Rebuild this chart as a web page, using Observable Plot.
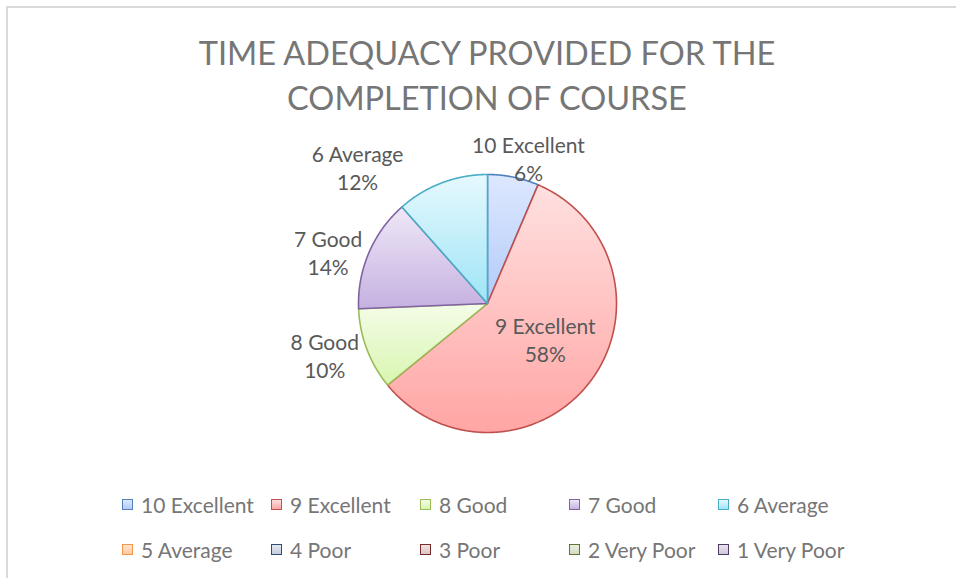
<!DOCTYPE html>
<html><head><meta charset="utf-8">
<script src="https://cdn.jsdelivr.net/npm/d3@7"></script>
<script src="https://cdn.jsdelivr.net/npm/@observablehq/plot@0.6"></script>
<style>
body{margin:0;background:#fff;font-family:Lato,"Open Sans",sans-serif;}
#chart{position:relative;width:956px;height:578px;overflow:hidden;background:#fff;}
#frame{position:absolute;left:6px;top:6px;width:1000px;height:1000px;border-left:2px solid #d9d9d9;border-top:2px solid #d9d9d9;pointer-events:none;}
#title{width:956px;height:125px;box-sizing:border-box;padding-top:30px;padding-left:18px;text-align:center;font-size:32.5px;line-height:45px;color:#767676;}
#plot svg{display:block;}
#legend{display:grid;grid-template-columns:repeat(5,149px);padding-left:122px;padding-top:12px;}
.item{height:45px;display:flex;align-items:center;font-size:21px;color:#767676;white-space:nowrap;}
.sw{width:9px;height:9px;border:1.5px solid;margin-right:8px;flex:none;}
</style>
</head><body>
<div id="chart">
  <div id="title">TIME ADEQUACY PROVIDED FOR THE<br>COMPLETION OF COURSE</div>
  <div id="plot"></div>
  <div id="legend"></div>
  <div id="frame"></div>
</div>
<script>
// ---- data ----
const categories = ["10 Excellent","9 Excellent","8 Good","7 Good","6 Average","5 Average","4 Poor","3 Poor","2 Very Poor","1 Very Poor"];
const counts     = [5, 45, 8, 11, 9, 0, 0, 0, 0, 0];

// ---- styles ----
const strokeColors = ["#4f81bd","#c0504d","#9bbb59","#8064a2","#4bacc6","#f79646","#2c4d75","#772c2a","#5f7530","#4d3b62"];
const gradTop      = ["#dde8fe","#ffe0e0","#f4fde8","#efe8f8","#e6f9fe","#ffe6d2","#e4e8f0","#f0e3e3","#ebf0e2","#e8e4ee"];
const gradBottom   = ["#b3cbf9","#ffa6a4","#d9f5b0","#c5b1e0","#9fe4f6","#ffc8a0","#c3cddd","#dbc6c6","#d3dcc1","#cfc7da"];
// label nudges (px) for Excel-like "best fit" placement
const labelNudge   = [[10,6],[1,-7],[-18,-3],[-17,9],[-75,8]];

const W = 956, H = 345, CX = 487, CY = 178, R = 129;

const total = d3.sum(counts);
const arcs = d3.pie().sort(null)(counts);

const slices = arcs.filter(a => a.value > 0).map(a => {
  const n = Math.max(4, Math.ceil((a.endAngle - a.startAngle) / 0.005));
  const pts = [{x: 0, y: 0}];
  for (let k = 0; k <= n; k++) {
    const t = a.startAngle + (a.endAngle - a.startAngle) * k / n;
    pts.push({x: Math.sin(t), y: Math.cos(t)});
  }
  pts.push({x: 0, y: 0});
  return {i: a.index, pts};
});

const labels = arcs.filter(a => a.value > 0).map((a, j) => {
  const mid = (a.startAngle + a.endAngle) / 2;
  const share = a.value / total;
  const k = share > 0.3 ? 0.55 : 1.2;
  return {
    x: k * Math.sin(mid), y: k * Math.cos(mid),
    label: `${categories[a.index]}\n${Math.round(share * 100)}%`,
    nudge: labelNudge[j] || [0, 0]
  };
});

const marks = [
  ...slices.map(s => Plot.line(s.pts, {
    x: "x", y: "y",
    fill: `url(#g${s.i})`,
    stroke: strokeColors[s.i], strokeWidth: 1.6, strokeLinejoin: "round"
  })),
  ...labels.map(l => Plot.text([l], {
    x: "x", y: "y", text: "label",
    dx: l.nudge[0], dy: l.nudge[1],
    fontSize: 21, fill: "#595959", lineHeight: 1.34
  }))
];

const svg = Plot.plot({
  width: W, height: H,
  margin: 0,
  x: {domain: [-CX / R, (W - CX) / R], axis: null},
  y: {domain: [-(H - CY) / R, CY / R], axis: null},
  style: {fontFamily: "Lato, 'Open Sans', sans-serif", overflow: "visible", background: "transparent"},
  marks
});

// gradients
const defs = d3.select(svg).insert("defs", ":first-child");
categories.forEach((c, i) => {
  const g = defs.append("linearGradient").attr("id", `g${i}`)
    .attr("x1", 0).attr("y1", 0).attr("x2", 0).attr("y2", 1);
  g.append("stop").attr("offset", "0%").attr("stop-color", gradTop[i]);
  g.append("stop").attr("offset", "100%").attr("stop-color", gradBottom[i]);
});

document.getElementById("plot").appendChild(svg);

// legend
const legend = d3.select("#legend");
categories.forEach((c, i) => {
  const it = legend.append("div").attr("class", "item");
  it.append("span").attr("class", "sw")
    .style("border-color", strokeColors[i])
    .style("background", `linear-gradient(${gradTop[i]}, ${gradBottom[i]})`);
  it.append("span").text(c);
});
</script>
</body></html>
